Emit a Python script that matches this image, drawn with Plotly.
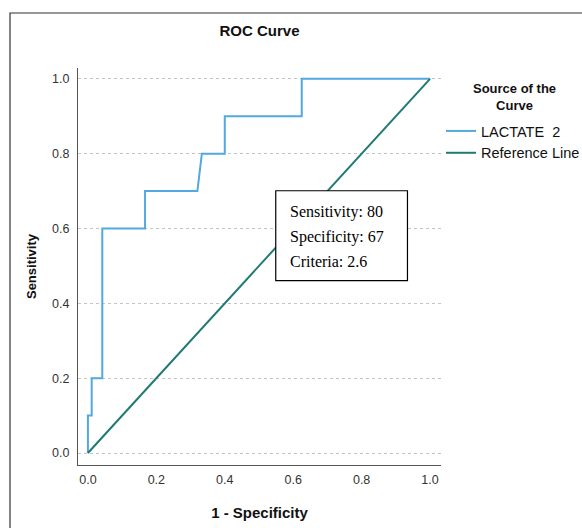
import plotly.graph_objects as go

# ROC curve data (1 - specificity, sensitivity)
fpr = [0.0, 0.0, 0.011, 0.011, 0.042, 0.042, 0.167, 0.167, 0.32, 0.333, 0.40, 0.40, 0.625, 0.625, 1.0]
tpr = [0.0, 0.1, 0.1, 0.2, 0.2, 0.6, 0.6, 0.7, 0.7, 0.8, 0.8, 0.9, 0.9, 1.0, 1.0]
ref_x = [0.0, 1.0]
ref_y = [0.0, 1.0]
tick_vals = [0.0, 0.2, 0.4, 0.6, 0.8, 1.0]
tick_text = ["0.0", "0.2", "0.4", "0.6", "0.8", "1.0"]
box_lines = ["Sensitivity: 80", "Specificity: 67", "Criteria: 2.6"]

W, H = 582, 528
L, R, T, B = 78, 141, 68, 63

fig = go.Figure()
fig.add_trace(go.Scatter(x=fpr, y=tpr, mode="lines", name="LACTATE&nbsp;&nbsp;2",
                         line=dict(color="#52a8e0", width=2)))
fig.add_trace(go.Scatter(x=ref_x, y=ref_y, mode="lines", name="Reference Line",
                         line=dict(color="#1f7a72", width=2)))

font = "Liberation Sans, Arial, sans-serif"

px = lambda p: (p - L) / (W - L - R)
py = lambda p: (H - B - p) / (H - T - B)

# annotation box
fig.add_shape(type="rect", xref="x", yref="y", x0=0.549, x1=0.934, y0=0.461, y1=0.701,
              line=dict(color="black", width=1.2), fillcolor="white", layer="above")
for i, t in enumerate(box_lines):
    fig.add_annotation(x=0.584, y=0.645 - i * 0.067, xref="x", yref="y", text=t,
                       showarrow=False, xanchor="left", yanchor="middle",
                       font=dict(family="Liberation Serif, Times New Roman, serif", size=16, color="black"))

# legend title (centered, two lines)
fig.add_annotation(x=px(514), y=py(97), xref="paper", yref="paper",
                   text="<b>Source of the<br>Curve</b>", showarrow=False,
                   xanchor="center", yanchor="middle", align="center",
                   font=dict(family=font, size=13, color="#111111"))

# outer frame (left and top edges visible)
fig.add_shape(type="rect", xref="paper", yref="paper",
              x0=px(10), x1=px(W + 20), y0=py(H + 20), y1=py(13),
              line=dict(color="#333333", width=1.2), layer="below")

fig.update_layout(
    width=W, height=H,
    margin=dict(l=L, r=R, t=T, b=B, autoexpand=False),
    paper_bgcolor="white", plot_bgcolor="white",
    title=dict(text="<b>ROC Curve</b>", x=0.5, xref="paper", y=1 - 31 / H, yref="container",
               xanchor="center", yanchor="middle",
               font=dict(family=font, size=15, color="#111111")),
    legend=dict(x=px(441), y=py(115), xanchor="left", yanchor="top",
                font=dict(family=font, size=14.5, color="#111111"),
                itemwidth=30, tracegroupgap=0, bgcolor="rgba(0,0,0,0)"),
    showlegend=True,
)
fig.update_xaxes(range=[-0.029, 1.032], tickvals=tick_vals, ticktext=tick_text,
                 showgrid=False, zeroline=False, showline=True, linecolor="#555555", linewidth=1,
                 ticks="", ticklabelstandoff=3, tickfont=dict(family=font, size=12.5, color="#333333"),
                 title=dict(text="<b>1 - Specificity</b>", standoff=21,
                            font=dict(family=font, size=15, color="#111111")))
fig.update_yaxes(range=[-0.032, 1.029], tickvals=tick_vals, ticktext=tick_text,
                 showgrid=True, gridcolor="#c4c4c4", griddash="3px,3px", gridwidth=1,
                 zeroline=False, showline=True, linecolor="#555555", linewidth=1,
                 ticks="", ticklabelstandoff=5, tickfont=dict(family=font, size=12.5, color="#333333"),
                 title=dict(text="<b>Sensitivity</b>", standoff=12,
                            font=dict(family=font, size=13, color="#111111")))

fig.write_html("out.html", config={"displayModeBar": False},
               post_script="document.body.style.margin='0';document.body.style.overflow='hidden';")
